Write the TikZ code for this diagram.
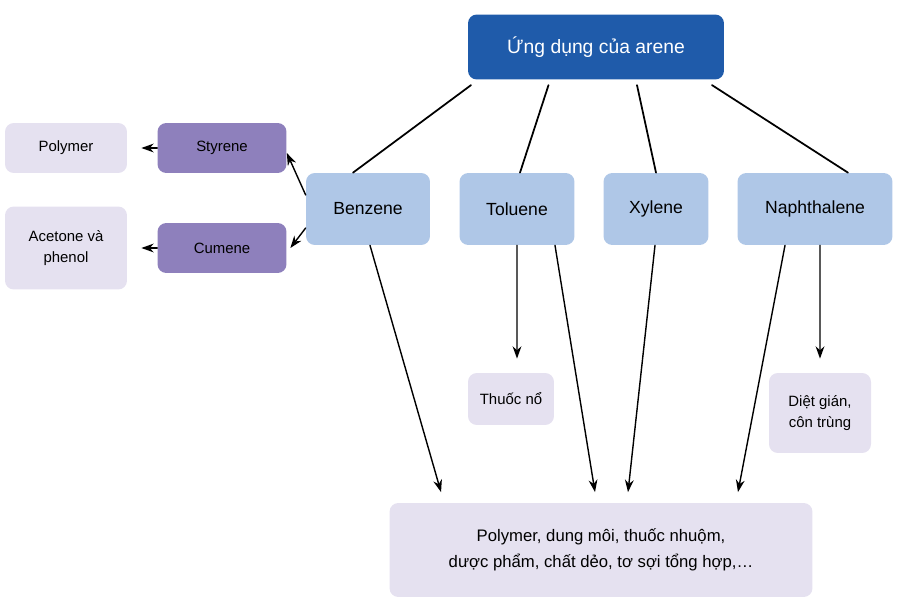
\documentclass[tikz,border=0pt]{standalone}
\usepackage{fontspec}
\setmainfont{Liberation Sans}
\usetikzlibrary{arrows.meta,calc}
\definecolor{arenetop}{HTML}{1F5BAA}
\definecolor{arenebox}{HTML}{AFC7E7}
\definecolor{arenemid}{HTML}{8E80BC}
\definecolor{areneuse}{HTML}{E5E1F0}
\begin{document}
\begin{tikzpicture}[line cap=round,line join=round,>={Stealth[length=7pt,width=5pt]},x=0.02cm,y=-0.02cm,
  box/.style={rounded corners=5pt,inner sep=0pt,align=center,font=\fontsize{10}{12}\selectfont},
  kind/.style={box,fill=arenebox,minimum width=#1},
  mid/.style={box,fill=arenemid,minimum width=2.58cm,minimum height=1cm,font=\fontsize{8.5}{11}\selectfont},
  use/.style={box,fill=areneuse,font=\fontsize{8.5}{12}\selectfont},
  link/.style={line width=1pt},
  arr/.style={->,line width=0.8pt}]
\useasboundingbox (0,0) rectangle (906,608);
\node[box,fill=arenetop,text=white,minimum width=5.12cm,minimum height=1.3cm,font=\fontsize{11}{13}\selectfont] (top) at (596,47) {Ứng dụng của arene};
\node[kind=2.48cm,minimum height=1.44cm] (ben) at (368,209) {Benzene};
\node[kind=2.3cm,minimum height=1.44cm] (tol) at (517,209) {Toluene};
\node[kind=2.1cm,minimum height=1.44cm] (xyl) at (656,209) {Xylene};
\node[kind=3.1cm,minimum height=1.44cm] (nap) at (815,209) {Naphthalene};
\node[mid] (sty) at (222,148) {Styrene};
\node[mid] (cum) at (222,248) {Cumene};
\node[use,minimum width=2.44cm,minimum height=1cm] (pol) at (66,148) {Polymer};
\node[use,minimum width=2.44cm,minimum height=1.66cm] (ace) at (66,248) {Acetone và\\phenol};
\node[use,minimum width=1.72cm,minimum height=1.04cm] (tnt) at (511,399) {Thuốc nổ};
\node[use,minimum width=2.04cm,minimum height=1.6cm] (diet) at (820,413) {Diệt gián,\\côn trùng};
\node[use,minimum width=8.46cm,minimum height=1.88cm,font=\fontsize{9.5}{15}\selectfont] (app) at (601,550) {Polymer, dung môi, thuốc nhuộm,\\dược phẩm, chất dẻo, tơ sợi tổng hợp,\dots};
% top links
\draw[link] ([xshift=-2.5cm,yshift=-3pt]top.south) -- ([xshift=-0.3cm]ben.north);
\draw[link] ([xshift=-0.95cm,yshift=-3pt]top.south) -- ([xshift=0.06cm]tol.north);
\draw[link] ([xshift=0.82cm,yshift=-3pt]top.south) -- (xyl.north);
\draw[link] ([xshift=2.32cm,yshift=-3pt]top.south) -- ([xshift=0.66cm]nap.north);
% benzene side
\draw[arr] ([yshift=0.28cm]ben.west) -- ([yshift=-0.1cm]sty.east);
\draw[arr] ([yshift=-0.38cm]ben.west) -- ([xshift=2pt]cum.east);
\draw[arr] (sty.west) -- ([xshift=8pt]pol.east);
\draw[arr] (cum.west) -- ([xshift=8pt]ace.east);
% downward
\draw[arr] ([xshift=0.04cm]ben.south) -- ([xshift=-3.2cm,yshift=6pt]app.north);
\draw[arr] (tol.south) -- ([xshift=0.12cm,yshift=8pt]tnt.north);
\draw[arr] ([xshift=0.76cm]tol.south) -- ([xshift=-0.12cm,yshift=6pt]app.north);
\draw[arr] ([xshift=-0.02cm]xyl.south) -- ([xshift=0.54cm,yshift=6pt]app.north);
\draw[arr] ([xshift=-0.6cm]nap.south) -- ([xshift=2.74cm,yshift=6pt]app.north);
\draw[arr] ([xshift=0.1cm]nap.south) -- ([yshift=8pt]diet.north);
\end{tikzpicture}
\end{document}
